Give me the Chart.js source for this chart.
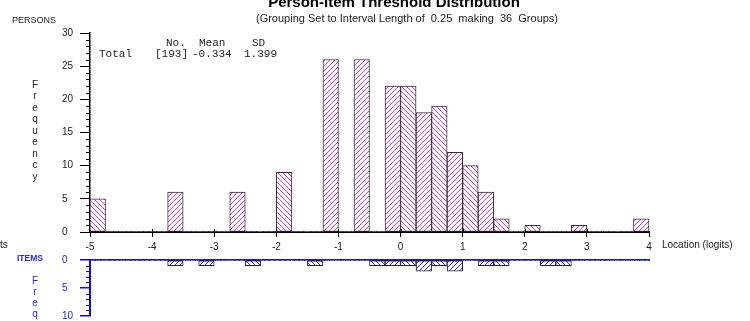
<!DOCTYPE html>
<html>
<head>
<meta charset="utf-8">
<script src="https://cdn.jsdelivr.net/npm/chart.js@4.4.1/dist/chart.umd.min.js"></script>
<style>
  html, body { margin: 0; padding: 0; background: #fff; }
  #wrap { position: relative; width: 750px; height: 321px; overflow: hidden; background: #fff; }
  canvas { position: absolute; left: 0; top: 0; }
</style>
</head>
<body>
<div id="wrap">
  <canvas id="persons" width="750" height="321"></canvas>
  <canvas id="items" width="750" height="321"></canvas>
</div>
<script>
// ---- data ----
const binStart = [-5, -4.75, -4.5, -4.25, -4, -3.75, -3.5, -3.25, -3, -2.75, -2.5, -2.25,
                  -2, -1.75, -1.5, -1.25, -1, -0.75, -0.5, -0.25, 0, 0.25, 0.5, 0.75,
                  1, 1.25, 1.5, 1.75, 2, 2.25, 2.5, 2.75, 3, 3.25, 3.5, 3.75];
const binWidth = 0.25;
const personCounts = [5, 0, 0, 0, 0, 6, 0, 0, 0, 6, 0, 0,
                      9, 0, 0, 26, 0, 26, 0, 22, 22, 18, 19, 12,
                      10, 6, 2, 0, 1, 0, 0, 1, 0, 0, 0, 2];
const itemCounts = [0, 0, 0, 0, 0, 1, 0, 1, 0, 0, 1, 0,
                    0, 0, 1, 0, 0, 0, 1, 1, 1, 2, 1, 2,
                    0, 1, 1, 0, 0, 1, 1, 0, 0, 0, 0, 0];
const xTicks = [-5, -4, -3, -2, -1, 0, 1, 2, 3, 4];
const personTicks = [0, 5, 10, 15, 20, 25, 30];
const itemTicks = [0, 5, 10];
const statHeader = ['No.', 'Mean', 'SD'];
const statRow = ['Total', '[193]', '-0.334', '1.399'];

const FONT = "'Liberation Sans', Arial, sans-serif";
const MONO = "'Liberation Mono', 'Courier New', monospace";
const ITEM_BLUE = '#1c1c9e';
const ITEM_TEXT = '#2a2ac8';

function makeHatch(ctx, color, forward) {
  const s = 5;
  const c = document.createElement('canvas');
  c.width = s; c.height = s;
  const g = c.getContext('2d');
  g.fillStyle = '#ffffff';
  g.fillRect(0, 0, s, s);
  g.strokeStyle = color;
  g.lineWidth = 1;
  g.beginPath();
  for (const k of [-s, 0, s]) {
    if (forward) { g.moveTo(k + s, 0); g.lineTo(k, s); }
    else { g.moveTo(k, 0); g.lineTo(k + s, s); }
  }
  g.stroke();
  return ctx.createPattern(c, 'repeat');
}

const ctxP = document.getElementById('persons').getContext('2d');
const ctxI = document.getElementById('items').getContext('2d');
const pinkSlash = makeHatch(ctxP, '#cc40cc', true);
const pinkBack = makeHatch(ctxP, '#cc40cc', false);
const blueSlash = makeHatch(ctxI, '#3a3ab4', true);
const blueBack = makeHatch(ctxI, '#3a3ab4', false);

function minorTicksPlugin(id, color, maxV, len) {
  return {
    id: id,
    afterDraw(chart) {
      const ys = chart.scales.y;
      const x0 = chart.chartArea.left;
      const c = chart.ctx;
      c.save();
      c.strokeStyle = color;
      c.lineWidth = 1;
      c.beginPath();
      for (let v = 0; v <= maxV; v++) {
        if (v % 5 === 0) continue;
        const y = Math.round(ys.getPixelForValue(v)) + 0.5;
        c.moveTo(x0 - len, y);
        c.lineTo(x0, y);
      }
      c.stroke();
      c.restore();
    }
  };
}

// small upward tick marks crossing the x axis, as in the reference
const crossTicksPlugin = {
  id: 'crossTicks',
  afterDraw(chart) {
    const xs = chart.scales.x;
    const yb = chart.chartArea.bottom;
    const c = chart.ctx;
    c.save();
    c.strokeStyle = '#000';
    c.lineWidth = 1;
    c.beginPath();
    xTicks.slice(1, -1).forEach(v => {
      const x = Math.round(xs.getPixelForValue(v)) + 0.5;
      c.moveTo(x, yb - 3);
      c.lineTo(x, yb);
    });
    c.stroke();
    c.restore();
  }
};

const textPlugin = {
  id: 'texts',
  afterDraw(chart) {
    const c = chart.ctx;
    c.save();
    c.fillStyle = '#000';
    c.font = 'bold 15px ' + FONT;
    c.textAlign = 'center';
    c.textBaseline = 'alphabetic';
    c.fillText('Person-Item Threshold Distribution', 394, 7);
    c.fillStyle = '#222';
    c.font = '11px ' + FONT;
    c.textBaseline = 'middle';
    c.fillText('(Grouping Set to Interval Length of  0.25  making  36  Groups)', 407, 19);
    c.textAlign = 'left';
    c.font = '9px ' + FONT;
    c.fillText('PERSONS', 12, 21);
    c.font = '10px ' + FONT;
    c.textAlign = 'center';
    'Frequency'.split('').forEach((ch, i) => c.fillText(ch, 35, 85 + i * 11.5));
    c.textAlign = 'left';
    c.fillText('ts', 0, 245);
    c.fillText('Location (logits)', 662, 245);
    c.fillStyle = ITEM_TEXT;
    c.font = 'bold 8.5px ' + FONT;
    c.fillText('ITEMS', 17, 259);
    c.font = '10px ' + FONT;
    c.textAlign = 'center';
    'Freq'.split('').forEach((ch, i) => c.fillText(ch, 35, 281 + i * 11));
    c.fillStyle = '#222';
    c.textAlign = 'left';
    c.font = '11px ' + MONO;
    const hx = [166, 199, 252];
    statHeader.forEach((t, i) => c.fillText(t, hx[i], 43));
    const rx = [99, 155, 192, 244];
    statRow.forEach((t, i) => c.fillText(t, rx[i], 54));
    c.restore();
  }
};

function noOverflow(s, w) {
  s.width = w;
  s.paddingTop = 0;
  s.paddingBottom = 0;
}

new Chart(ctxP, {
  type: 'bar',
  data: {
    datasets: [{
      data: binStart.map((b, i) => ({ x: b + binWidth / 2, y: personCounts[i] })),
      backgroundColor: (ctx) => (ctx.dataIndex % 2 === 1 ? pinkSlash : pinkBack),
      borderColor: '#333333',
      borderWidth: (ctx) => (ctx.raw && ctx.raw.y ? 1 : 0),
      borderSkipped: false,
      barPercentage: 1,
      categoryPercentage: 1
    }]
  },
  options: {
    responsive: false,
    animation: false,
    events: [],
    layout: { padding: { left: 62, right: 101, top: 33, bottom: 69 } },
    plugins: { legend: { display: false }, tooltip: { enabled: false } },
    scales: {
      x: {
        type: 'linear', min: -5, max: 4, offset: false,
        afterBuildTicks: (s) => { s.ticks = xTicks.map(v => ({ value: v })); },
        afterFit: (s) => { s.height = 20; },
        ticks: { font: { family: FONT, size: 10 }, color: '#222', padding: 4, maxRotation: 0, autoSkip: false },
        grid: { offset: false, drawOnChartArea: false, drawTicks: true, tickLength: 5, color: '#000', lineWidth: 1 },
        border: { display: true, color: '#000', width: 2 }
      },
      y: {
        type: 'linear', min: 0, max: 30,
        afterBuildTicks: (s) => { s.ticks = personTicks.map(v => ({ value: v })); },
        afterFit: (s) => noOverflow(s, 28),
        ticks: { crossAlign: 'far', font: { family: FONT, size: 10 }, color: '#222' },
        grid: { drawOnChartArea: false, drawTicks: true, tickLength: 10, color: '#000', lineWidth: 1 },
        border: { display: true, color: '#000', width: 1.5 }
      }
    }
  },
  plugins: [minorTicksPlugin('minorP', '#000', 30, 4), crossTicksPlugin, textPlugin]
});

new Chart(ctxI, {
  type: 'bar',
  data: {
    datasets: [{
      data: binStart.map((b, i) => ({ x: b + binWidth / 2, y: itemCounts[i] })),
      backgroundColor: (ctx) => (ctx.dataIndex % 2 === 1 ? blueSlash : blueBack),
      borderColor: '#222244',
      borderWidth: (ctx) => (ctx.raw && ctx.raw.y ? 1 : 0),
      borderSkipped: false,
      barPercentage: 1,
      categoryPercentage: 1
    }]
  },
  options: {
    responsive: false,
    animation: false,
    events: [],
    layout: { padding: { left: 62, right: 101, top: 260, bottom: 5 } },
    plugins: { legend: { display: false }, tooltip: { enabled: false } },
    scales: {
      x: {
        type: 'linear', position: 'top', min: -5, max: 4, offset: false,
        afterBuildTicks: (s) => { s.ticks = xTicks.map(v => ({ value: v })); },
        afterFit: (s) => { s.height = 0; },
        ticks: { display: false },
        grid: { offset: false, drawOnChartArea: false, drawTicks: false },
        border: { display: true, color: ITEM_BLUE, width: 2 }
      },
      y: {
        type: 'linear', min: 0, max: 10, reverse: true,
        afterBuildTicks: (s) => { s.ticks = itemTicks.map(v => ({ value: v })); },
        afterFit: (s) => noOverflow(s, 28),
        ticks: { crossAlign: 'far', font: { family: FONT, size: 10 }, color: ITEM_TEXT },
        grid: { drawOnChartArea: false, drawTicks: true, tickLength: 10, color: '#1010c0', lineWidth: 1.5 },
        border: { display: true, color: '#1010c0', width: 2 }
      }
    }
  },
  plugins: [minorTicksPlugin('minorI', '#1010c0', 10, 4)]
});
</script>
</body>
</html>
